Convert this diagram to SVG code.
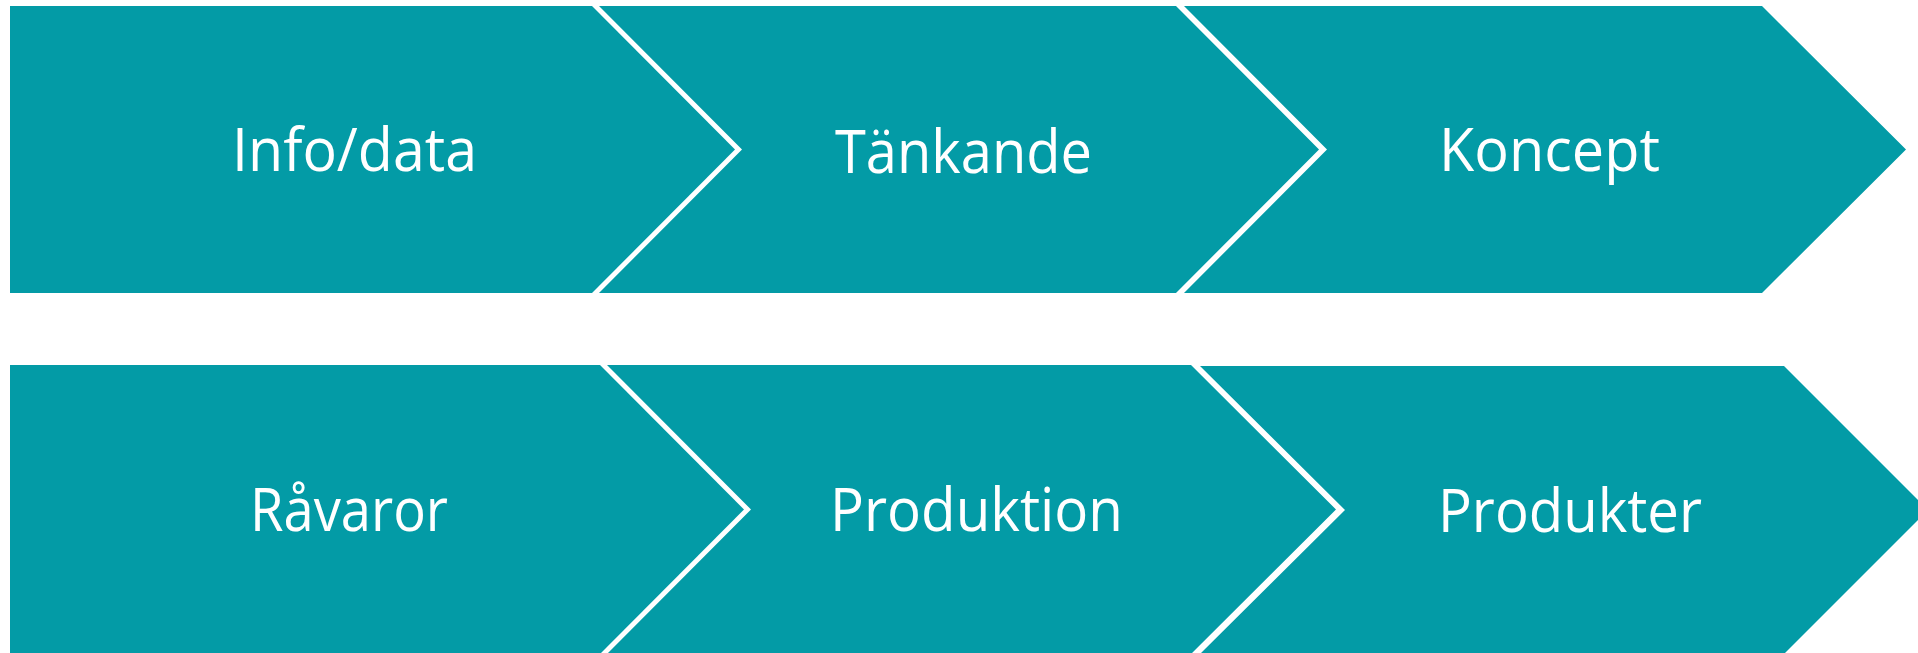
<svg xmlns="http://www.w3.org/2000/svg" width="1918" height="653" viewBox="0 0 1918 653">
  <style>
    .shape { fill: #039BA6; }
    .label { fill: #FFFFFF; font-family: "Open Sans", "Noto Sans", "Liberation Sans", sans-serif; font-weight: 400; font-size: 60px; }
  </style>
  <rect x="0" y="0" width="1918" height="653" fill="#FFFFFF"/>
  <g id="row-top">
    <g id="node-info-data">
      <polygon class="shape" points="10,6 592,6 735,149.5 592,293 10,293"/>
      <text class="label" x="232" y="171" textLength="245" lengthAdjust="spacingAndGlyphs">Info/data</text>
    </g>
    <g id="node-tankande">
      <polygon class="shape" points="599,6 1176,6 1319,149.5 1176,293 599,293 742,149.5"/>
      <text class="label" x="835" y="173" textLength="257" lengthAdjust="spacingAndGlyphs">Tänkande</text>
    </g>
    <g id="node-koncept">
      <polygon class="shape" points="1184,6 1762,6 1906,149.5 1762,293 1184,293 1327,149.5"/>
      <text class="label" x="1439" y="171" textLength="221" lengthAdjust="spacingAndGlyphs">Koncept</text>
    </g>
  </g>
  <g id="row-bottom">
    <g id="node-ravaror">
      <polygon class="shape" points="10,365 600,365 744,509.5 600,654 10,654"/>
      <text class="label" x="250" y="531" textLength="198" lengthAdjust="spacingAndGlyphs">Råvaror</text>
    </g>
    <g id="node-produktion">
      <polygon class="shape" points="607,365 1191,365 1336,509.5 1191,654 607,654 751,509.5"/>
      <text class="label" x="830" y="531" textLength="293" lengthAdjust="spacingAndGlyphs">Produktion</text>
    </g>
    <g id="node-produkter">
      <polygon class="shape" points="1200,366 1784,366 1928,510 1784,654 1200,654 1345,510"/>
      <text class="label" x="1438" y="532" textLength="264" lengthAdjust="spacingAndGlyphs">Produkter</text>
    </g>
  </g>
</svg>
